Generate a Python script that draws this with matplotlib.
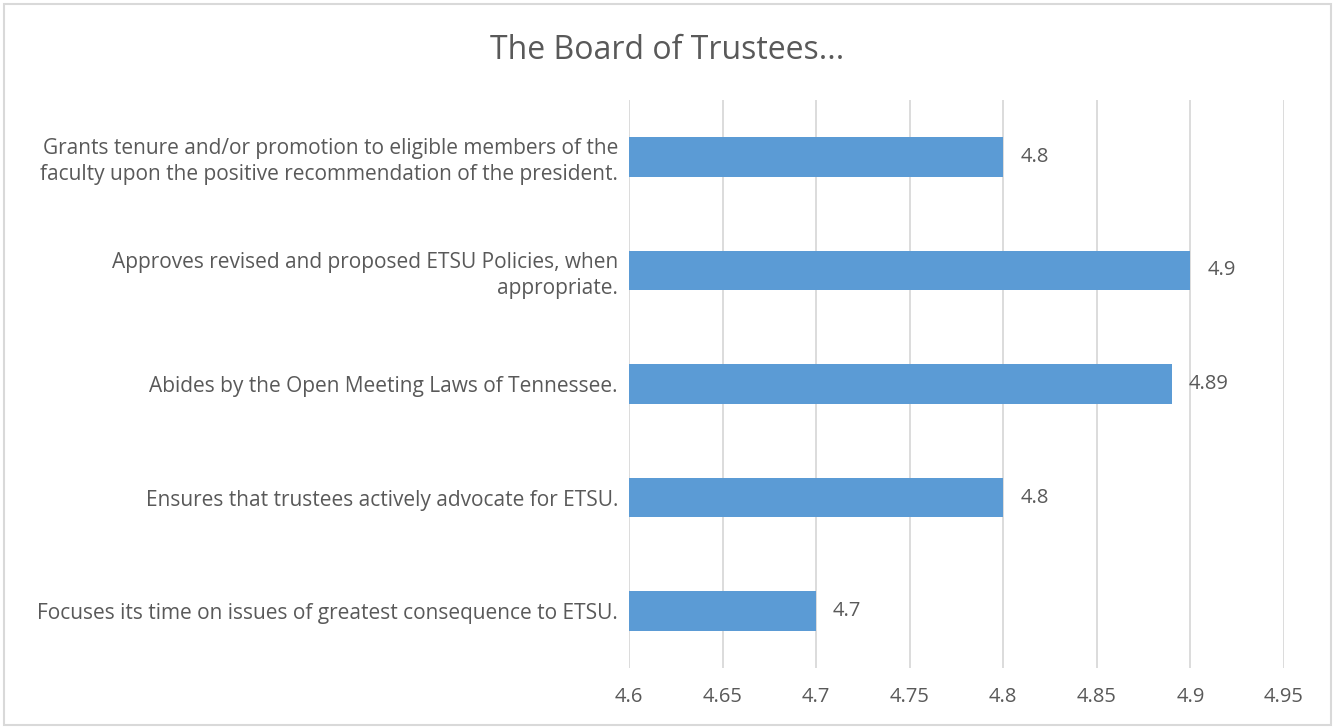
import numpy as np
import matplotlib.pyplot as plt
from matplotlib.patches import Rectangle

plt.rcParams['font.family'] = ['Open Sans', 'DejaVu Sans']

categories = [
    'Focuses its time on issues of greatest consequence to ETSU.',
    'Ensures that trustees actively advocate for ETSU.',
    'Abides by the Open Meeting Laws of Tennessee.',
    'Approves revised and proposed ETSU Policies, when\nappropriate.',
    'Grants tenure and/or promotion to eligible members of the\nfaculty upon the positive recommendation of the president.',
]
values = [4.7, 4.8, 4.89, 4.9, 4.8]
value_labels = ['4.7', '4.8', '4.89', '4.9', '4.8']
xticks = [4.6, 4.65, 4.7, 4.75, 4.8, 4.85, 4.9, 4.95]
xtick_labels = ['4.6', '4.65', '4.7', '4.75', '4.8', '4.85', '4.9', '4.95']

text_color = '#595959'
bar_color = '#5B9BD5'
grid_color = '#D9D9D9'

fig = plt.figure(figsize=(13.35, 7.27), dpi=100)
ax = fig.add_axes([0.4712, 0.0812, 0.4906, 0.7812])

y = np.arange(len(categories))
ax.barh(y, [v - 4.6 for v in values], left=4.6, height=0.35, color=bar_color, zorder=3)
for yi, v, lab in zip(y, values, value_labels):
    ax.text(v + 0.009, yi, lab, va='center', ha='left', fontsize=14.5, color=text_color)

ax.set_xlim(4.6, 4.95)
ax.set_ylim(-0.5, len(categories) - 0.5)
ax.set_xticks(xticks)
ax.set_xticklabels(xtick_labels, fontsize=14.5, color=text_color)
ax.set_yticks(y)
ax.set_yticklabels(categories, fontsize=15, color=text_color, linespacing=1.3)
ax.tick_params(axis='both', length=0)
ax.tick_params(axis='x', pad=14)
ax.tick_params(axis='y', pad=8)
ax.grid(axis='x', color=grid_color, linewidth=1.3, zorder=0)
for s in ax.spines.values():
    s.set_visible(False)

fig.text(0.5, 0.93, 'The Board of Trustees...', ha='center', va='center', fontsize=23, color=text_color)
fig.patches.append(Rectangle((0.003, 0.003), 0.994, 0.992, transform=fig.transFigure,
                             fill=False, edgecolor='#D9D9D9', linewidth=1.5))

fig.savefig('out.png', dpi=100)
